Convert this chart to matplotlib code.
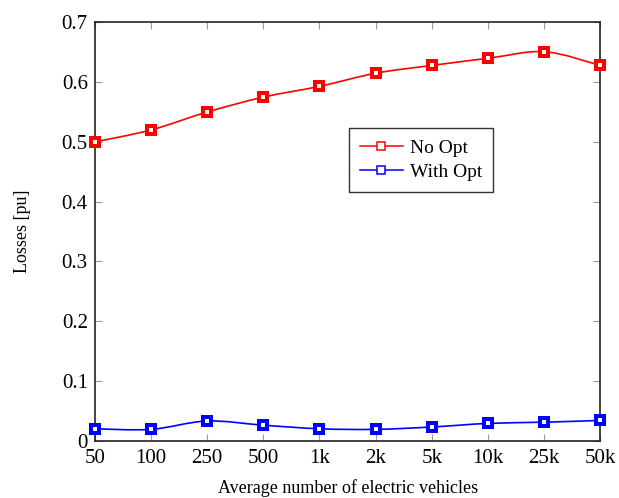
import numpy as np
import matplotlib.pyplot as plt
from matplotlib.path import Path
from matplotlib.patches import PathPatch

# data
ev_labels = ["50", "100", "250", "500", "1k", "2k", "5k", "10k", "25k", "50k"]
no_opt = [0.500, 0.520, 0.550, 0.575, 0.593, 0.615, 0.628, 0.640, 0.651, 0.628]
with_opt = [0.020, 0.019, 0.033, 0.026, 0.020, 0.019, 0.023, 0.029, 0.031, 0.034]

plt.rcParams["font.family"] = ["Liberation Serif", "DejaVu Serif"]
plt.rcParams["font.size"] = 14


def smooth_path(xs, ys, tension=0.5):
    # bezier path through the points, like pgfplots "smooth"
    pts = np.column_stack([xs, ys]).astype(float)
    verts = [pts[0]]
    codes = [Path.MOVETO]
    n = len(pts)
    for i in range(n - 1):
        p0 = pts[i - 1] if i > 0 else pts[i]
        p1, p2 = pts[i], pts[i + 1]
        p3 = pts[i + 2] if i + 2 < n else pts[i + 1]
        c1 = p1 + (p2 - p0) * tension / 3
        c2 = p2 - (p3 - p1) * tension / 3
        verts += [c1, c2, p2]
        codes += [Path.CURVE4] * 3
    return Path(verts, codes)


fig, ax = plt.subplots(figsize=(6.19, 4.98), dpi=100)
fig.subplots_adjust(left=0.153, right=0.970, top=0.955, bottom=0.115)

x = np.arange(len(ev_labels))
for vals, col, lab in [(no_opt, "red", "No Opt"), (with_opt, "blue", "With Opt")]:
    ax.add_patch(PathPatch(smooth_path(x, vals), fill=False, edgecolor=col, lw=1.2, zorder=3))
    ax.plot(x, vals, ls="none", marker="s", ms=6.0, mfc="white", mec=col, mew=2.9, zorder=4,
            clip_on=False)
    # legend handle
    ax.plot([], [], color=col, lw=1.1, marker="s", ms=6, mfc="white", mec=col, mew=1.1, label=lab)

ax.set_xlim(0, len(ev_labels) - 1)
ax.set_ylim(0, 0.7)
ax.set_xticks(x)
ax.set_xticklabels(ev_labels)
ax.set_yticks([0, 0.1, 0.2, 0.3, 0.4, 0.5, 0.6, 0.7])
ax.set_yticklabels(["0", "0.1", "0.2", "0.3", "0.4", "0.5", "0.6", "0.7"])
ax.tick_params(direction="in", top=True, right=True, length=5, color="#999999",
               labelsize=15)
ax.tick_params(axis="x", pad=6)
ax.tick_params(axis="y", pad=5)
for s in ax.spines.values():
    s.set_linewidth(1.2)
    s.set_color("#222222")

ax.set_xlabel("Average number of electric vehicles", fontsize=13, labelpad=8)
ax.set_ylabel("Losses [pu]", fontsize=13, labelpad=22)

leg = ax.legend(loc="upper left", bbox_to_anchor=(0.503, 0.747), borderaxespad=0,
                fontsize=14, frameon=True, fancybox=False, handlelength=2.2,
                borderpad=0.55, labelspacing=0.35, handletextpad=0.4)
leg.get_frame().set_edgecolor("black")
leg.get_frame().set_linewidth(1.0)

plt.savefig("out.png")
